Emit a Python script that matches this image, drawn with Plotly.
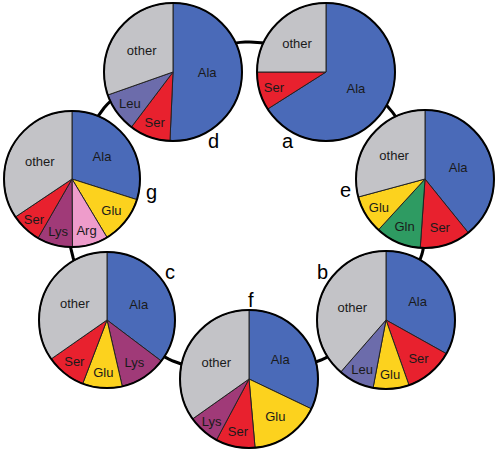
import plotly.graph_objects as go

# ---- data ----
panel_names = ["a", "b", "c", "d", "e", "f", "g"]
labels_a = ["Ala", "Ser", "other"]
values_a = [66, 9, 25]
labels_b = ["Ala", "Ser", "Glu", "Leu", "other"]
values_b = [33.1, 11.5, 8.4, 8.4, 38.6]
labels_c = ["Ala", "Lys", "Glu", "Ser", "other"]
values_c = [35.3, 11.1, 9.4, 9.5, 34.7]
labels_d = ["Ala", "Ser", "Leu", "other"]
values_d = [50.7, 9.6, 9.3, 30.4]
labels_e = ["Ala", "Ser", "Gln", "Glu", "other"]
values_e = [39.2, 11.9, 10.7, 9.0, 29.2]
labels_f = ["Ala", "Glu", "Ser", "Lys", "other"]
values_f = [32.1, 16.5, 9.2, 7.4, 34.8]
labels_g = ["Ala", "Glu", "Arg", "Lys", "Ser", "other"]
values_g = [29.9, 11.5, 8.5, 8.4, 7.3, 34.4]

colors = {
    "Ala": "#4A6AB8", "Ser": "#E8212E", "other": "#C3C3C7", "Leu": "#6C6CAB",
    "Glu": "#FCD21E", "Gln": "#2E9B62", "Lys": "#A03A78", "Arg": "#EE9CCB",
}

W, H = 495, 453
# layout (pixel) positions of pies: centre x, centre y, radius
pie_pos = {
    "a": (326, 72, 69), "b": (386, 320, 69), "c": (107, 320, 68),
    "d": (173, 72, 69), "e": (425, 179, 69), "f": (249, 379, 69),
    "g": (72, 179, 68),
}
label_pos = {
    "a": (288, 141), "b": (322, 272), "c": (170, 272), "d": (213, 141),
    "e": (345, 190), "f": (251, 300), "g": (151, 192),
}
ring_pts = [(250, 42), (390, 109), (422, 254), (321, 360), (173, 361), (72, 254), (104, 108)]

data = {
    "a": (labels_a, values_a), "b": (labels_b, values_b), "c": (labels_c, values_c),
    "d": (labels_d, values_d), "e": (labels_e, values_e), "f": (labels_f, values_f),
    "g": (labels_g, values_g),
}

# closed Catmull-Rom ring
def catmull(pts, n=30):
    out = []
    m = len(pts)
    for i in range(m):
        p0, p1, p2, p3 = pts[(i - 1) % m], pts[i], pts[(i + 1) % m], pts[(i + 2) % m]
        for k in range(n):
            t = k / n
            t2, t3 = t * t, t * t * t
            x = 0.5 * ((2 * p1[0]) + (-p0[0] + p2[0]) * t + (2 * p0[0] - 5 * p1[0] + 4 * p2[0] - p3[0]) * t2 + (-p0[0] + 3 * p1[0] - 3 * p2[0] + p3[0]) * t3)
            y = 0.5 * ((2 * p1[1]) + (-p0[1] + p2[1]) * t + (2 * p0[1] - 5 * p1[1] + 4 * p2[1] - p3[1]) * t2 + (-p0[1] + 3 * p1[1] - 3 * p2[1] + p3[1]) * t3)
            out.append((x, y))
    out.append(out[0])
    return out

ring = catmull(ring_pts)

fig = go.Figure()
fig.add_trace(go.Scatter(x=[p[0] for p in ring], y=[p[1] for p in ring], mode="lines",
                         line=dict(color="black", width=3), hoverinfo="skip", showlegend=False))

shapes = []
annotations = []
for name in panel_names:
    labs, vals = data[name]
    cx, cy, r = pie_pos[name]
    x0 = max(0.0, (cx - r) / W)
    x1 = min(1.0, (cx + r) / W)
    y0 = max(0.0, 1 - (cy + r) / H)
    y1 = min(1.0, 1 - (cy - r) / H)
    fig.add_trace(go.Pie(
        labels=labs, values=vals, sort=False, direction="clockwise", rotation=0,
        domain=dict(x=[x0, x1], y=[y0, y1]),
        marker=dict(colors=[colors[l] for l in labs], line=dict(color="#222222", width=1)),
        textinfo="label", textposition="inside", insidetextorientation="horizontal",
        textfont=dict(family="Liberation Sans, Arial, sans-serif", size=13, color="#1a1a1a"),
        showlegend=False, hoverinfo="label+value",
    ))
    shapes.append(dict(type="circle", xref="x", yref="y", x0=cx - r, x1=cx + r, y0=cy - r, y1=cy + r,
                       line=dict(color="black", width=2), layer="above"))
    lx, ly = label_pos[name]
    annotations.append(dict(x=lx, y=ly, xref="x", yref="y", text=name, showarrow=False,
                            font=dict(family="Liberation Sans, Arial, sans-serif", size=20, color="black")))

fig.update_layout(
    width=W, height=H, margin=dict(l=0, r=0, t=0, b=0),
    paper_bgcolor="white", plot_bgcolor="white",
    xaxis=dict(range=[0, W], visible=False, fixedrange=True),
    yaxis=dict(range=[H, 0], visible=False, fixedrange=True),
    shapes=shapes, annotations=annotations, uniformtext=dict(minsize=13, mode="show"),
)
fig.write_html("out.html", config={"displayModeBar": False},
               post_script="document.body.style.margin='0';document.body.style.overflow='hidden';")
